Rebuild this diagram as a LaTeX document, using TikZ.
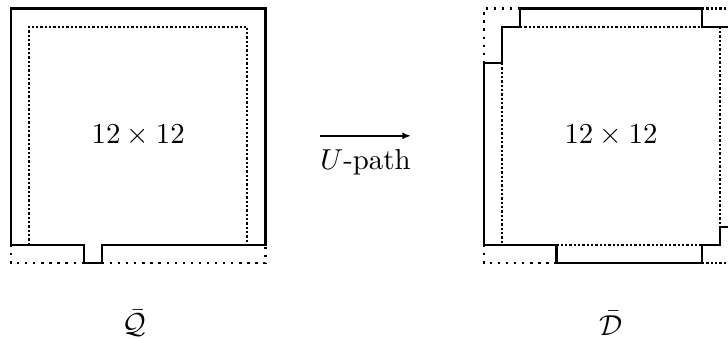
\documentclass[tikz,border=0pt]{standalone}
\usepackage{tikz}
\usetikzlibrary{arrows.meta,positioning}

\begin{document}
\begin{tikzpicture}[
  x=6.3pt, y=6.3pt, >={Latex[length=3pt,width=2.4pt]},
  wall/.style={draw=black, line width=0.8pt, line join=miter},
  rim/.style={draw=black, line width=0.8pt, dash pattern=on 0.8pt off 2pt},
  core/.style={draw=black, line width=0.8pt, dash pattern=on 0.8pt off 0.7pt},
  lbl/.style={font=\normalsize},
]
\clip (-0.6,-4.13) rectangle (39.43,14.47);
% left region Q
\draw[wall] (4,0) -- (4,1) -- (0,1) -- (0,14) -- (14,14) -- (14,1) -- (5,1) -- (5,0) -- cycle;
\draw[rim] (0,1) -- (0,0) -- (4,0);
\draw[rim] (5,0) -- (14,0) -- (14,1);
\draw[core] (1,1) -- (1,13) -- (13,13) -- (13,1);
\node[lbl] (qsize) at (7,7) {$12 \times 12$};
\node[lbl] (qname) at (6.8,-3.3) {$\bar{\mathcal{Q}}$};
% right region D
\draw[wall] (26,1) -- (26,11) -- (27,11) -- (27,13) -- (28,13) -- (28,14) -- (38,14) -- (38,13) -- (40,13) -- (40,2) -- (39,2) -- (39,1) -- (38,1) -- (38,0) -- (30,0) -- (30,1) -- cycle;
\draw[rim] (26,11) -- (26,14) -- (28,14);
\draw[rim] (26,1) -- (26,0) -- (30,0);
\draw[core] (38,14) -- (40,14);
\draw[core] (38,0) -- (40,0);
\draw[core] (27,11) -- (27,1);
\draw[core] (30,1) -- (38,1);
\draw[core] (28,13) -- (38,13);
\draw[core] (39,13) -- (39,2);
\node[lbl] (dsize) at (33,7) {$12 \times 12$};
\node[lbl] (dname) at (33,-3.3) {$\bar{\mathcal{D}}$};
% the map between them
\coordinate (from) at (17,7);
\coordinate (to) at (22,7);
\draw[->, line width=0.9pt] (from) -- node[below=1pt, lbl] (upath) {$U$-path} (to);
\end{tikzpicture}
\end{document}
